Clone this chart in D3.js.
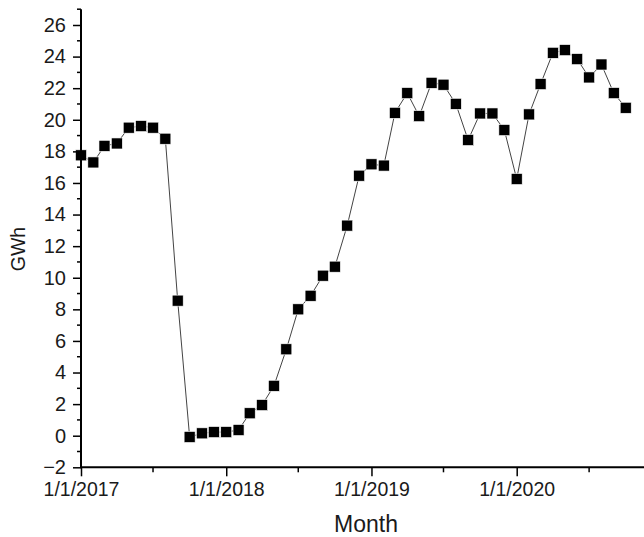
<!DOCTYPE html>
<html><head><meta charset="utf-8">
<script src="https://cdn.jsdelivr.net/npm/d3@7"></script>
<style>body{margin:0;background:#fff}svg{display:block}</style>
</head><body>
<script>
const months = [
 "2017-01","2017-02","2017-03","2017-04","2017-05","2017-06","2017-07","2017-08","2017-09","2017-10","2017-11","2017-12",
 "2018-01","2018-02","2018-03","2018-04","2018-05","2018-06","2018-07","2018-08","2018-09","2018-10","2018-11","2018-12",
 "2019-01","2019-02","2019-03","2019-04","2019-05","2019-06","2019-07","2019-08","2019-09","2019-10","2019-11","2019-12",
 "2020-01","2020-02","2020-03","2020-04","2020-05","2020-06","2020-07","2020-08","2020-09","2020-10"];
const gwh = [
 17.75,17.3,18.35,18.5,19.5,19.6,19.5,18.8,8.55,-0.08,0.15,0.23,
 0.23,0.36,1.42,1.94,3.16,5.47,8.0,8.86,10.13,10.7,13.3,16.46,
 17.18,17.1,20.44,21.69,20.23,22.34,22.22,21.01,18.72,20.4,20.4,19.35,
 16.25,20.34,22.26,24.24,24.41,23.84,22.68,23.5,21.69,20.76];
const yTicks = [-2,0,2,4,6,8,10,12,14,16,18,20,22,24,26];
const yMinor = [-1,1,3,5,7,9,11,13,15,17,19,21,23,25,27];
const xTickLabels = ["1/1/2017","1/1/2018","1/1/2019","1/1/2020"];
const xMinorDates = ["2017-07-01","2018-07-01","2019-07-01","2020-07-01"];

const W = 644, H = 537;
const parse = d3.timeParse("%Y-%m-%d");
const data = months.map((m,i)=>({d: parse(m+"-01"), v: gwh[i]}));

const svg = d3.select("body").append("svg").attr("width",W).attr("height",H);
const x = d3.scaleTime().domain([parse("2017-01-01"), parse("2020-01-01")]).range([81, 516.7]);
const y = d3.scaleLinear().domain([-2, 27]).range([467.3, 9.2]);
const font = "'Liberation Sans', Arial, sans-serif";
const txt = "#1a1a1a";

// line
svg.append("path").datum(data)
  .attr("fill","none").attr("stroke","#444").attr("stroke-width",1)
  .attr("d", d3.line().x(d=>x(d.d)).y(d=>y(d.v)));

// markers
const s = 11;
svg.append("g").selectAll("rect").data(data).join("rect")
  .attr("x", d=>x(d.d)-s/2).attr("y", d=>y(d.v)-s/2)
  .attr("width", s).attr("height", s).attr("fill","#000")
  .attr("stroke","#fff").attr("stroke-width",0.6);

// Y axis
const yAxis = svg.append("g").attr("transform","translate(81,0)")
  .call(d3.axisLeft(y).tickValues(yTicks).tickSize(8).tickPadding(7).tickFormat(d3.format("d")));
yAxis.select(".domain").remove();
yAxis.selectAll(".tick line").attr("stroke","#000").attr("stroke-width",1.5);
yAxis.selectAll("text").attr("font-family",font).attr("font-size",20).attr("fill",txt);
svg.append("g").selectAll("line").data(yMinor).join("line")
  .attr("x1",77).attr("x2",81).attr("y1",d=>y(d)).attr("y2",d=>y(d))
  .attr("stroke","#000").attr("stroke-width",1.5);
svg.append("line").attr("x1",81).attr("x2",81).attr("y1",y(27)).attr("y2",y(-2)+0.75)
  .attr("stroke","#000").attr("stroke-width",2);

// X axis
const xMajor = xTickLabels.map(s=>d3.timeParse("%m/%d/%Y")(s));
const xAxis = svg.append("g").attr("transform",`translate(0,${y(-2)})`)
  .call(d3.axisBottom(x).tickValues(xMajor).tickSize(9).tickPadding(6)
    .tickFormat((d,i)=>xTickLabels[i]));
xAxis.select(".domain").remove();
xAxis.selectAll(".tick line").attr("stroke","#000").attr("stroke-width",1.5);
xAxis.selectAll("text").attr("font-family",font).attr("font-size",19.5).attr("fill",txt);
svg.append("g").selectAll("line").data(xMinorDates.map(parse)).join("line")
  .attr("x1",d=>x(d)).attr("x2",d=>x(d)).attr("y1",y(-2)).attr("y2",y(-2)+5)
  .attr("stroke","#000").attr("stroke-width",1.5);
svg.append("line").attr("x1",80).attr("x2",W+5).attr("y1",y(-2)).attr("y2",y(-2))
  .attr("stroke","#000").attr("stroke-width",2);

// axis titles
svg.append("text").attr("x",366).attr("y",532).attr("text-anchor","middle")
  .attr("font-family",font).attr("font-size",23).attr("fill",txt).text("Month");
svg.append("text").attr("transform","translate(25,249) rotate(-90)").attr("text-anchor","middle")
  .attr("font-family",font).attr("font-size",19.5).attr("fill",txt).text("GWh");
</script>
</body></html>
